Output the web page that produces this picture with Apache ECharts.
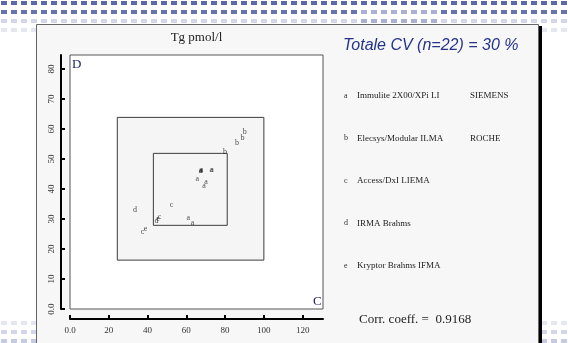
<!DOCTYPE html>
<html><head><meta charset="utf-8">
<script src="https://cdn.jsdelivr.net/npm/echarts@6/dist/echarts.min.js"></script>
<style>html,body{margin:0;padding:0;background:#fff}#c{width:568px;height:343px}</style>
</head><body><div id="c"></div>
<script>
// ---- data ----
const seriesA = [[67.3,46.2],[67.6,46.0],[67.9,46.3],[67.5,46.4],[72.9,46.5],[73.3,46.3],[65.6,43.4],[70.1,42.3],[69.1,41.0],[61.0,30.4],[63.2,28.8]];
const seriesB = [[90.2,59.1],[89.0,57.1],[86.2,55.4],[80.0,52.4]];
const seriesC = [[52.4,34.8],[46.2,30.6],[37.4,25.6]];
const seriesD = [[33.5,32.9],[44.6,29.4]];
const seriesE = [[45.4,30.0],[38.9,26.6]];
const seriesLetters = ['a','b','c','d','e'];
const methodNames = ['Immulite 2X00/XPi LI','Elecsys/Modular ILMA','Access/DxI LIEMA','IRMA Brahms','Kryptor Brahms IFMA'];
const manufacturers = ['SIEMENS','ROCHE','','',''];
const xTicks = [0,20,40,60,80,100,120];
const yTicks = [0,10,20,30,40,50,60,70,80];
const outerBox = [[24.4,16.3],[100,63.9]];
const innerBox = [[43.0,27.9],[81.1,51.9]];
const titleText = 'Tg pmol/l';
const cvText = 'Totale CV (n=22) = 30 %';
const corrText = 'Corr. coeff. =  0.9168';

const allSeries = [seriesA, seriesB, seriesC, seriesD, seriesE];
const serif = 'Liberation Serif';

// ---- decoration ----
const gfx = [];
function dotRow(y, x0, x1, color){
  for (let x = x0; x < x1; x += 10) {
    gfx.push({type:'rect', z:-20, silent:true, shape:{x:x, y:y, width:6, height:4}, style:{fill:color}});
  }
}
dotRow(1, 1, 568, '#5c69a8');
dotRow(10, 1, 361, '#6773ad'); dotRow(10, 361, 441, '#aab0d1'); dotRow(10, 441, 568, '#6773ad');
dotRow(19, 1, 361, '#d3d6e8'); dotRow(19, 361, 441, '#aab0d1'); dotRow(19, 441, 568, '#d3d6e8');
dotRow(28, 1, 568, '#e4e6f0');
dotRow(321, 1, 568, '#e4e6f0');
dotRow(330, 1, 568, '#d3d6e8');
dotRow(339, 1, 568, '#c6cae0');
gfx.push({type:'rect', z:-11, silent:true, shape:{x:539, y:26, width:3, height:330}, style:{fill:'#000'}});
gfx.push({type:'rect', z:-10, silent:true, shape:{x:36.5, y:24.5, width:502, height:330}, style:{fill:'#f7f7f7', stroke:'#666', lineWidth:1}});

// legend entries
methodNames.forEach((name, i) => {
  const y = 96 + i * 42.4;
  gfx.push({type:'text', z:10, x:344, y:y, style:{text:seriesLetters[i], font:'8px ' + serif, fill:'#333', verticalAlign:'middle'}});
  gfx.push({type:'text', z:10, x:357, y:y, style:{text:name, font:'9px ' + serif, fill:'#222', verticalAlign:'middle'}});
  if (manufacturers[i]) gfx.push({type:'text', z:10, x:470, y:y, style:{text:manufacturers[i], font:'9px ' + serif, fill:'#222', verticalAlign:'middle'}});
});
gfx.push({type:'text', z:10, x:343, y:46, style:{text:cvText, font:'italic 16px "Liberation Sans"', fill:'#23338a', verticalAlign:'middle'}});
gfx.push({type:'text', z:10, x:359, y:320, style:{text:corrText, font:'13px ' + serif, fill:'#222', verticalAlign:'middle'}});
gfx.push({type:'text', z:10, x:196.5, y:38, style:{text:titleText, font:'13px ' + serif, fill:'#222', align:'center', verticalAlign:'middle'}});
gfx.push({type:'text', z:10, x:72, y:65, style:{text:'D', font:'13px ' + serif, fill:'#1b2463', verticalAlign:'middle'}});
gfx.push({type:'text', z:10, x:313, y:302, style:{text:'C', font:'13px ' + serif, fill:'#1b2463', verticalAlign:'middle'}});

const fmt = v => (v === 0 ? '0.0' : String(v));

const series = allSeries.map((data, i) => ({
  type:'scatter',
  name: seriesLetters[i],
  data: data,
  symbolSize: 1,
  itemStyle:{color:'rgba(0,0,0,0)'},
  label:{show:true, position:'inside', formatter: () => seriesLetters[i], fontFamily: serif, fontSize: 8, color:'#222'},
  z: 5
}));
series.push({
  type:'scatter', data:[], silent:true,
  markArea:{
    silent:true,
    itemStyle:{color:'#f5f5f5', borderColor:'#3c3c3c', borderWidth:1},
    data:[
      [{coord: outerBox[0]}, {coord: outerBox[1]}],
      [{coord: innerBox[0]}, {coord: innerBox[1]}]
    ]
  }
});

const chart = echarts.init(document.getElementById('c'), null, {renderer:'canvas'});
chart.setOption({
  animation:false,
  backgroundColor:'#fff',
  graphic: gfx,
  grid:{left:70, top:55, width:253, height:254, show:true, backgroundColor:'#fff', borderColor:'#555', borderWidth:1, outerBoundsMode:'none'},
  xAxis:{
    type:'value', min:0, max:130.5, offset:10,
    splitLine:{show:false},
    axisLine:{show:true, onZero:false, lineStyle:{color:'#000', width:2}},
    axisTick:{show:true, inside:true, length:4, lineStyle:{color:'#000', width:2}, customValues: xTicks},
    axisLabel:{show:true, margin:7, fontFamily:serif, fontSize:9, color:'#333', formatter: fmt, customValues: xTicks}
  },
  yAxis:{
    type:'value', min:0, max:84.7, offset:9,
    splitLine:{show:false},
    axisLine:{show:true, onZero:false, lineStyle:{color:'#000', width:2}},
    axisTick:{show:true, inside:true, length:4, lineStyle:{color:'#000', width:2}, customValues: yTicks},
    axisLabel:{show:true, margin:5, rotate:90, fontFamily:serif, fontSize:9, color:'#333', formatter: fmt, customValues: yTicks}
  },
  series: series
});
</script>
</body></html>
